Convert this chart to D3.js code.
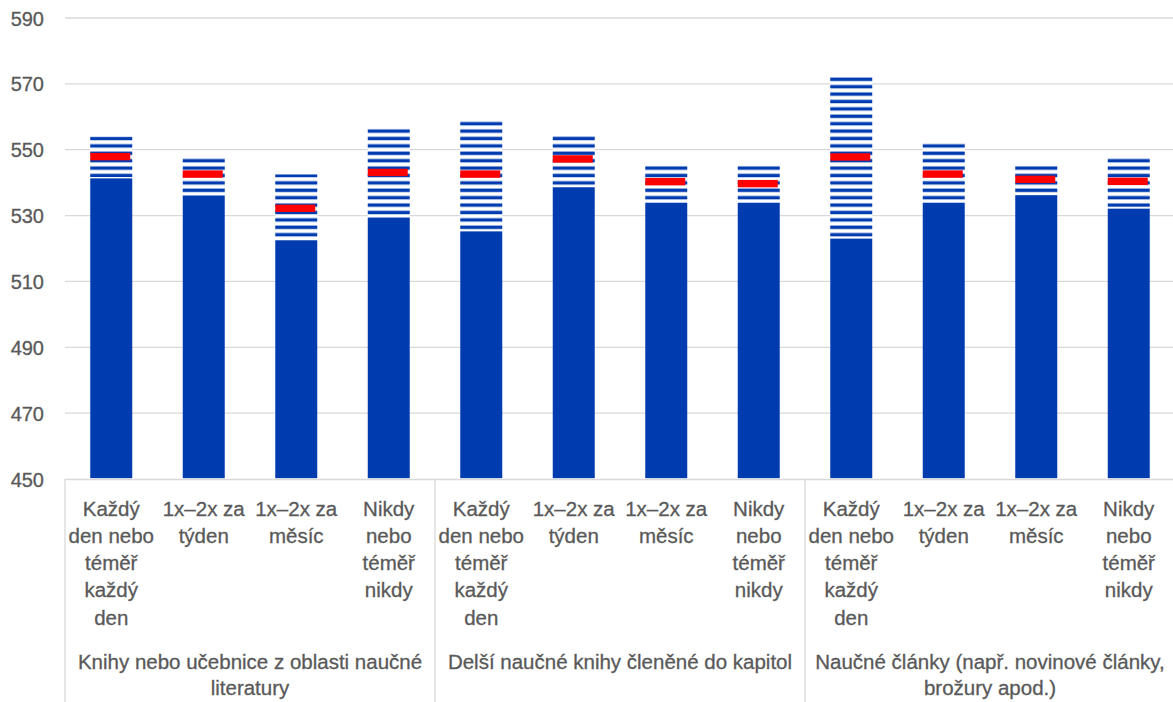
<!DOCTYPE html>
<html>
<head>
<meta charset="utf-8">
<script src="https://cdn.jsdelivr.net/npm/d3@7"></script>
<style>
  html, body { margin: 0; padding: 0; background: #fff; }
  svg { display: block; }
  text { font-family: "Liberation Sans", Arial, sans-serif; fill: #595959; stroke: #595959; stroke-width: 0.3; }
</style>
</head>
<body>
<svg id="chart" width="1173" height="702"></svg>
<script>
// ---- data ----
const groups = [
  ["Knihy nebo učebnice z oblasti naučné", "literatury"],
  ["Delší naučné knihy členěné do kapitol"],
  ["Naučné články (např. novinové články,", "brožury apod.)"]
];
const categoryLines = [
  ["Každý", "den nebo", "téměř", "každý", "den"],
  ["1x–2x za", "týden"],
  ["1x–2x za", "měsíc"],
  ["Nikdy", "nebo", "téměř", "nikdy"]
];
const lower = [541.3, 536.1, 522.5, 529.4, 525.2, 538.6, 533.9, 533.9, 523.0, 533.9, 536.2, 532.1];
const upper = [554.0, 547.7, 542.5, 556.9, 559.2, 554.7, 545.6, 545.6, 572.5, 552.2, 545.3, 547.6];
const mean  = [547.9, 542.6, 532.2, 543.1, 542.6, 547.2, 540.3, 539.7, 547.8, 542.6, 541.0, 540.4];
const yTicks = [450, 470, 490, 510, 530, 550, 570, 590];

// ---- layout ----
const mLeft = 65, mRight = 1175, mTop = 18, mBottom = 479;
const blue = "#003BB0", red = "#FF0000", grid = "#D9D9D9";

const svg = d3.select("#chart");
const defs = svg.append("defs");
const pat = defs.append("pattern")
  .attr("id", "stripes")
  .attr("patternUnits", "userSpaceOnUse")
  .attr("width", 10).attr("height", 7.4)
  .attr("y", 0.3);
pat.append("rect").attr("width", 10).attr("height", 7.4).attr("fill", "#fff");
pat.append("rect").attr("y", 3.3).attr("width", 10).attr("height", 3.4).attr("fill", blue);

const idx = d3.range(lower.length);
const x = d3.scaleBand().domain(idx).range([mLeft, mRight]).paddingInner(0.546).paddingOuter(0.273);
const y = d3.scaleLinear().domain([450, 590]).range([mBottom, mTop]);

// gridlines
svg.append("g").selectAll("line").data(yTicks.filter(t => t !== 450)).join("line")
  .attr("x1", mLeft).attr("x2", mRight)
  .attr("y1", d => y(d)).attr("y2", d => y(d))
  .attr("stroke", grid).attr("stroke-width", 1.3);

// y axis labels
const yAxis = d3.axisLeft(y).tickValues(yTicks).tickSize(0).tickPadding(0);
const ya = svg.append("g").attr("transform", `translate(${mLeft - 21},0)`).call(yAxis);
ya.select(".domain").remove();
ya.selectAll("text")
  .attr("font-size", 20)
  .attr("font-family", "'Liberation Sans', Arial, sans-serif")
  .attr("fill", "#595959")
  .attr("dy", "0.35em");

// solid bars
svg.append("g").selectAll("rect").data(idx).join("rect")
  .attr("x", i => x(i)).attr("width", x.bandwidth())
  .attr("y", i => y(lower[i])).attr("height", i => y(450) - y(lower[i]) - 0.8)
  .attr("fill", blue);

// striped range bars
svg.append("g").selectAll("rect").data(idx).join("rect")
  .attr("x", i => x(i)).attr("width", x.bandwidth())
  .attr("y", i => y(upper[i])).attr("height", i => y(lower[i]) - y(upper[i]) - 1.2)
  .attr("fill", "url(#stripes)");

// mean markers
svg.append("g").selectAll("rect").data(idx).join("rect")
  .attr("x", i => x(i)).attr("width", x.bandwidth() - 2)
  .attr("y", i => y(mean[i]) - 3.7).attr("height", 7.4)
  .attr("fill", red);

// axis line & separators
svg.append("line").attr("x1", mLeft).attr("x2", mRight).attr("y1", mBottom + 0.5).attr("y2", mBottom + 0.5)
  .attr("stroke", grid).attr("stroke-width", 1.3);
const step = x.step();
const sepX = [0, 4, 8, 12].map(k => mLeft + k * step);
svg.append("g").selectAll("line").data(sepX).join("line")
  .attr("x1", d => d).attr("x2", d => d)
  .attr("y1", mBottom).attr("y2", 702)
  .attr("stroke", grid).attr("stroke-width", 1.3);

// category labels
const lineH = 27.3;
idx.forEach(i => {
  const lines = categoryLines[i % 4];
  const t = svg.append("text").attr("text-anchor", "middle").attr("font-size", 20.5);
  lines.forEach((l, j) => {
    t.append("tspan").attr("x", x(i) + x.bandwidth() / 2).attr("y", 515.5 + j * lineH).text(l);
  });
});

// group labels
groups.forEach((g, k) => {
  const cx = mLeft + (k * 4 + 2) * step;
  const t = svg.append("text").attr("text-anchor", "middle").attr("font-size", 20.5);
  g.forEach((l, j) => {
    t.append("tspan").attr("x", cx).attr("y", 668.5 + j * 26.7).text(l);
  });
});
</script>
</body>
</html>
